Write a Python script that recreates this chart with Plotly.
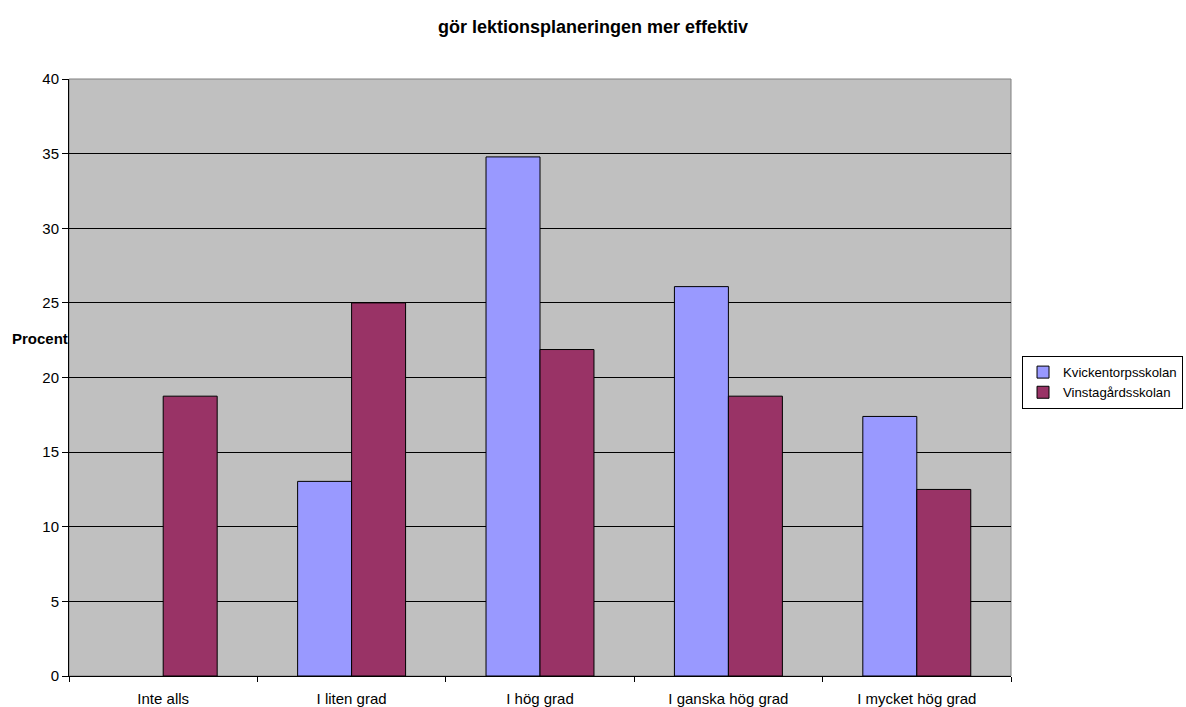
import plotly.graph_objects as go

categories = ["Inte alls", "I liten grad", "I hög grad", "I ganska hög grad", "I mycket hög grad"]
kvickentorp = [0, 13.04, 34.78, 26.09, 17.39]
vinstagard = [18.75, 25.0, 21.875, 18.75, 12.5]
series_names = ["Kvickentorpsskolan", "Vinstagårdsskolan"]
y_ticks = [0, 5, 10, 15, 20, 25, 30, 35, 40]

font = "Liberation Sans, Arial, sans-serif"


def nz(vals):
    # a zero bar is not drawn at all (no outline) in the reference
    return [v if v != 0 else None for v in vals]


fig = go.Figure()
fig.add_trace(go.Bar(x=categories, y=nz(kvickentorp), name=series_names[0],
                     marker=dict(color="#9999FF", line=dict(color="#000000", width=1))))
fig.add_trace(go.Bar(x=categories, y=nz(vinstagard), name=series_names[1],
                     marker=dict(color="#993366", line=dict(color="#000000", width=1))))

fig.update_layout(
    width=1186, height=707,
    margin=dict(l=69, r=175, t=79, b=31, autoexpand=False),
    paper_bgcolor="white", plot_bgcolor="#C0C0C0",
    barmode="group", bargap=0.427, bargroupgap=0,
    font=dict(family=font, size=15, color="black"),
    title=dict(text="<b>gör lektionsplaneringen mer effektiv</b>", x=0.5, xanchor="center",
               y=1 - 27 / 707, yanchor="middle", font=dict(size=18, family=font)),
    legend=dict(x=1.0117, y=0.4916, xanchor="left", yanchor="middle",
                bgcolor="white", bordercolor="black", borderwidth=1,
                font=dict(size=13.2, family=font), itemwidth=30, tracegroupgap=0),
    showlegend=True,
)
fig.update_xaxes(type="category", tickson="boundaries", ticks="outside", ticklen=5,
                 tickcolor="black", showgrid=False, showline=True, linecolor="black",
                 linewidth=1, tickfont=dict(size=15), mirror=False, automargin=False,
                 ticklabelstandoff=9)
fig.update_yaxes(range=[0, 40], tickvals=y_ticks, ticks="outside", ticklen=6, tickcolor="black",
                 showgrid=True, gridcolor="black", gridwidth=1, showline=True, linecolor="black",
                 linewidth=1, zeroline=False, tickfont=dict(size=15), automargin=False)
fig.add_shape(type="rect", xref="paper", yref="paper", x0=0, x1=1, y0=0, y1=1,
              line=dict(color="#808080", width=1), layer="below")
fig.add_annotation(text="<b>Procent</b>", xref="paper", yref="paper", x=-0.0308, y=0.565,
                   xanchor="center", yanchor="middle", showarrow=False, font=dict(size=15, family=font))
fig.write_html("out.html", config={"displayModeBar": False},
               post_script="document.body.style.margin='0';document.body.style.overflow='hidden';")
